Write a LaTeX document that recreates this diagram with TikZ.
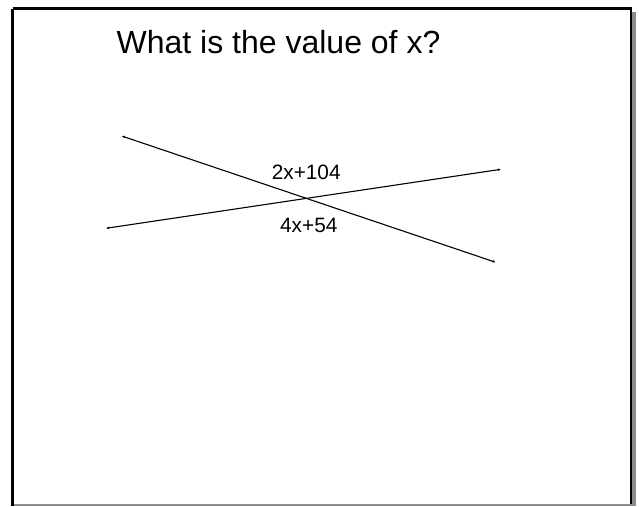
\documentclass[tikz,border=0pt]{standalone}
\usepackage{fontspec}
\setmainfont{Liberation Sans}
\usetikzlibrary{arrows.meta}
\begin{document}
\begin{tikzpicture}[x=1pt,y=-1pt,
  frame/.style={draw=black,line width=2.5pt},
  shadow/.style={fill=black!45,draw=none},
  ray/.style={draw=black,line width=1.1pt,{Latex[length=3pt,width=2.6pt]}-{Latex[length=3pt,width=2.6pt]}},
  lbl/.style={font=\fontsize{20.8}{24}\selectfont,inner sep=0pt},
  ttl/.style={font=\fontsize{32}{38}\selectfont,inner sep=0pt}]
\fill[white] (0,0) rectangle (639,506);
\useasboundingbox (0,0) rectangle (639,506);
% shadow
\path[shadow] (632,12) rectangle (636,506);
\path[shadow] (12,503.8) rectangle (636,506);
% frame
\draw[frame] (12.5,8.5) -- (631,8.5) -- (631,503.5);
\draw[frame] (12.5,8.5) -- (12.5,506);
% title
\node[ttl,anchor=base] (title) at (278.5,53) {What is the value of x?};
% lines
\coordinate (a1) at (121.7,136);
\coordinate (a2) at (495.7,262.3);
\coordinate (b1) at (106,228.3);
\coordinate (b2) at (501,169.3);
\draw[ray] (a1) -- (a2);
\draw[ray] (b1) -- (b2);
% labels
\node[lbl,anchor=base] (l1) at (306.2,179.5) {2x+104};
\node[lbl,anchor=base] (l2) at (308.8,232.7) {4x+54};
\end{tikzpicture}
\end{document}
